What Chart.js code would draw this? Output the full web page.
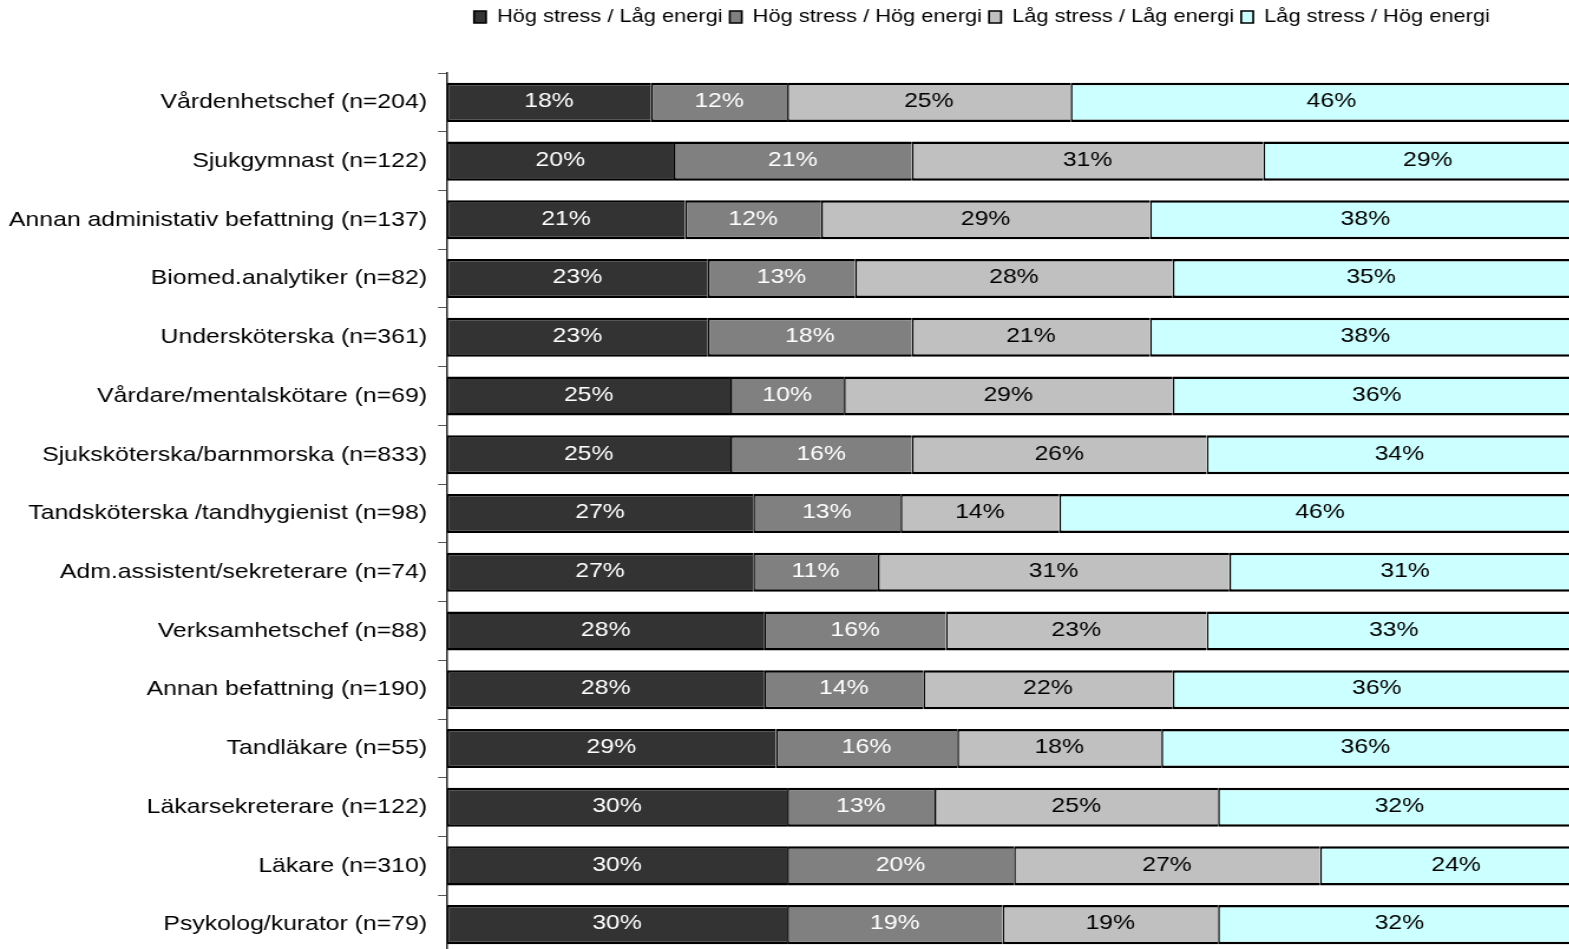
<!DOCTYPE html>
<html lang="sv">
<head>
<meta charset="utf-8">
<title>Stress och energi per yrkesgrupp</title>
<script src="https://cdn.jsdelivr.net/npm/chart.js@4.4.1/dist/chart.umd.min.js"></script>
<style>
  html, body { margin: 0; padding: 0; background: #fff; overflow: hidden; }
  #wrap { width: 1350px; height: 960px; transform: scale(1.18, 1); transform-origin: 0 0; }
</style>
</head>
<body>
<div id="wrap"><canvas id="myChart" width="1350" height="960"></canvas></div>
<script>
// yrkesgrupper, uppifrån och ned
const groups = [
  "Vårdenhetschef (n=204)",
  "Sjukgymnast (n=122)",
  "Annan administativ befattning (n=137)",
  "Biomed.analytiker (n=82)",
  "Undersköterska (n=361)",
  "Vårdare/mentalskötare (n=69)",
  "Sjuksköterska/barnmorska (n=833)",
  "Tandsköterska /tandhygienist (n=98)",
  "Adm.assistent/sekreterare (n=74)",
  "Verksamhetschef (n=88)",
  "Annan befattning (n=190)",
  "Tandläkare (n=55)",
  "Läkarsekreterare (n=122)",
  "Läkare (n=310)",
  "Psykolog/kurator (n=79)"
]

// andel i procent per grupp
const hogStressLagEnergi = [18, 20, 21, 23, 23, 25, 25, 27, 27, 28, 28, 29, 30, 30, 30]
const hogStressHogEnergi = [12, 21, 12, 13, 18, 10, 16, 13, 11, 16, 14, 16, 13, 20, 19]
const lagStressLagEnergi = [25, 31, 29, 28, 21, 29, 26, 14, 31, 23, 22, 18, 25, 27, 19]
const lagStressHogEnergi = [46, 29, 38, 35, 38, 36, 34, 46, 31, 33, 36, 36, 32, 24, 32]

const seriesNames = ["Hög stress / Låg energi", "Hög stress / Hög energi", "Låg stress / Låg energi", "Låg stress / Hög energi"]
const seriesData = [hogStressLagEnergi, hogStressHogEnergi, lagStressLagEnergi, lagStressHogEnergi]
const fills = ["#333333", "#808080", "#c0c0c0", "#ccffff"]
const labelColors = ["#ffffff", "#ffffff", "#000000", "#000000"]

const FONT = "'Liberation Sans', Arial, sans-serif"

// procenttal mitt i varje segment
const segmentLabels = {
  id: "segmentLabels",
  afterDatasetsDraw(chart) {
    const ctx = chart.ctx
    ctx.save()
    ctx.font = "21px " + FONT
    ctx.textAlign = "center"
    ctx.textBaseline = "middle"
    chart.data.datasets.forEach((ds, di) => {
      const meta = chart.getDatasetMeta(di)
      ctx.fillStyle = labelColors[di]
      meta.data.forEach((bar, i) => {
        const p = bar.getProps(["x", "base", "y"], true)
        ctx.fillText(ds.data[i] + "%", (p.x + p.base) / 2, p.y - 1)
      })
    })
    ctx.restore()
  }
}

// legenden hamnar högst upp och börjar strax till höger om axeln
const legendOffset = {
  id: "legendOffset",
  afterUpdate(chart) {
    const l = chart.legend
    const dx = 401.7 - (l.left + l.options.labels.padding)
    const dy = 1.75 - l.top
    l.left += dx
    l.right += dx
    l.top += dy
    l.bottom += dy
  }
}

const ctx = document.getElementById("myChart")
const myChart = new Chart(ctx, {
  type: "bar",
  data: {
    labels: groups,
    datasets: seriesData.map((d, i) => ({
      label: seriesNames[i],
      data: d,
      backgroundColor: fills[i],
      borderColor: "#000000",
      borderWidth: { top: 2.5, bottom: 2.5, left: 1.6, right: 0 },
      borderSkipped: false,
      categoryPercentage: 1,
      barPercentage: 0.665
    }))
  },
  options: {
    indexAxis: "y",
    responsive: false,
    animation: false,
    layout: { padding: { top: 38.5, right: 10.3, bottom: 6, left: 0 } },
    scales: {
      x: { stacked: true, min: 0, max: 100, display: false },
      y: {
        stacked: true,
        afterFit: (scale) => {
          scale.width = 378.8
          scale.paddingTop = 0
          scale.paddingBottom = 0
        },
        border: { display: true, color: "#333333", width: 1.6 },
        grid: { display: true, drawOnChartArea: false, drawTicks: true, tickLength: 7.6, color: "#555555", offset: true },
        ticks: { color: "#000000", padding: 9.3, font: { family: FONT, size: 21 } }
      }
    },
    plugins: {
      legend: {
        position: "top",
        align: "start",
        labels: {
          color: "#000000",
          boxWidth: 10.2,
          boxHeight: 12,
          padding: 6,
          font: { family: FONT, size: 18.5 }
        }
      },
      tooltip: { enabled: false }
    }
  },
  plugins: [segmentLabels, legendOffset]
})
</script>
</body>
</html>
